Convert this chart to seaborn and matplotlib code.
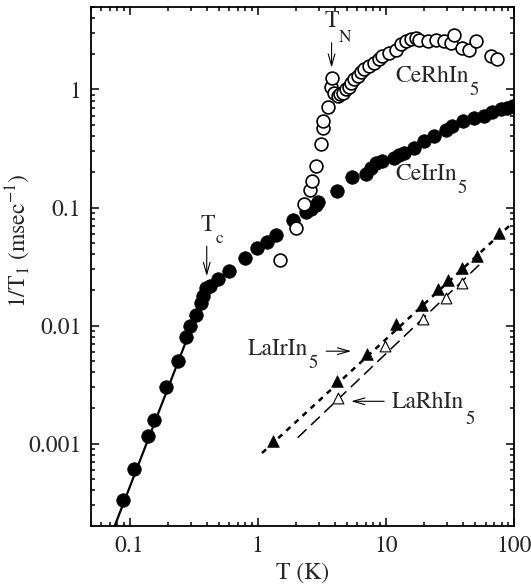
import matplotlib
matplotlib.use("Agg")
import matplotlib.pyplot as plt
import seaborn as sns
from matplotlib.ticker import FixedLocator, FixedFormatter, LogLocator, NullFormatter

# CeIrIn5, filled circles
ceir_T = [0.0895, 0.109, 0.138, 0.156, 0.193, 0.237, 0.275, 0.297, 0.327, 0.358,
          0.375, 0.394, 0.423, 0.49, 0.60, 0.80, 0.995, 1.19, 1.38, 1.87,
          2.36, 2.62, 2.83, 2.98, 4.14, 5.42, 7.01, 7.67, 8.39, 9.34,
          11.5, 12.7, 13.9, 16.7, 19.9, 23.8, 29.4, 33.1, 40.1, 48.8,
          58.5, 67.8, 78.7, 88.7, 98.0]
ceir_rate = [3.3e-4, 6.05e-4, 1.16e-3, 1.57e-3, 3.0e-3, 5.05e-3, 8.07e-3, 9.94e-3, 0.0123, 0.0154,
             0.0177, 0.0207, 0.0215, 0.025, 0.029, 0.037, 0.045, 0.0515, 0.059, 0.079,
             0.091, 0.098, 0.104, 0.112, 0.139, 0.181, 0.193, 0.217, 0.236, 0.25,
             0.264, 0.276, 0.287, 0.32, 0.365, 0.40, 0.458, 0.489, 0.54, 0.575,
             0.60, 0.642, 0.677, 0.70, 0.72]

# CeRhIn5, open circles
cerh_T = [1.48, 2.0, 2.29, 2.55, 2.65, 2.86, 3.10, 3.22, 3.26, 3.53,
          3.74, 3.79, 3.95, 4.22, 4.4, 4.61, 4.9, 5.13, 5.36, 5.69,
          6.03, 6.41, 6.8, 7.44, 8.14, 8.9, 9.4, 10.6, 12.0, 13.1,
          14.4, 15.7, 17.2, 18.2, 21.2, 24.6, 28.5, 32.2, 34.1, 39.6,
          44.7, 50.3, 65.8, 74.1]
cerh_rate = [0.0358, 0.0673, 0.107, 0.14, 0.169, 0.226, 0.345, 0.473, 0.546, 0.708,
             1.05, 1.26, 0.93, 0.88, 0.91, 0.94, 1.0, 1.05, 1.14, 1.22,
             1.30, 1.40, 1.48, 1.58, 1.68, 1.82, 1.91, 2.05, 2.18, 2.41,
             2.57, 2.68, 2.74, 2.65, 2.6, 2.65, 2.6, 2.49, 2.92, 2.26,
             2.18, 2.6, 1.92, 1.8]

# LaIrIn5, filled triangles
lair_T = [1.32, 4.15, 7.1, 12.0, 19.0, 25.3, 30.3, 39.2, 51.8, 76.4]
lair_rate = [1.06e-3, 3.37e-3, 5.76e-3, 0.0103, 0.0148, 0.0202, 0.0245, 0.0308, 0.0387, 0.061]

# LaRhIn5, open triangles
larh_T = [4.22, 9.85, 19.5, 29.4, 39.2]
larh_rate = [2.44e-3, 6.68e-3, 0.0113, 0.0172, 0.0227]

# fit lines (end points)
ceir_fit_T = [0.0765, 0.40]
ceir_fit_rate = [2.0e-4, 0.0209]
lair_fit_T = [1.08, 92.0]
lair_fit_rate = [8.3e-4, 0.07]
larh_fit_T = [2.05, 55.0]
larh_fit_rate = [1.12e-3, 0.0336]

x_ticks = [0.1, 1, 10, 100]
x_tick_labels = ["0.1", "1", "10", "100"]
y_ticks = [0.001, 0.01, 0.1, 1]
y_tick_labels = ["0.001", "0.01", "0.1", "1"]

sns.set_theme(style="ticks")
plt.rcParams["font.family"] = ["STIXGeneral", "DejaVu Serif"]
plt.rcParams["mathtext.fontset"] = "stix"

FS = 17

fig = plt.figure(figsize=(5.31, 5.84), dpi=100)
ax = fig.add_axes([0.1714, 0.0993, 0.7966, 0.8887])
ax.set_xscale("log")
ax.set_yscale("log")

sns.lineplot(x=ceir_fit_T, y=ceir_fit_rate, ax=ax, color="black", lw=1.6)
sns.lineplot(x=lair_fit_T, y=lair_fit_rate, ax=ax, color="black", lw=1.8,
             dashes=False, linestyle=(0, (2.2, 2.2)))
sns.lineplot(x=larh_fit_T, y=larh_fit_rate, ax=ax, color="black", lw=1.1,
             dashes=False, linestyle=(0, (8, 4)))

sns.scatterplot(x=ceir_T, y=ceir_rate, ax=ax, marker="o", s=95,
                color="black", edgecolor="black", linewidth=0.5, zorder=3)
sns.scatterplot(x=cerh_T, y=cerh_rate, ax=ax, marker="o", s=85,
                color="white", edgecolor="black", linewidth=1.2, zorder=4)
sns.scatterplot(x=lair_T, y=lair_rate, ax=ax, marker="^", s=70,
                color="black", edgecolor="black", linewidth=0.5, zorder=3)
sns.scatterplot(x=larh_T, y=larh_rate, ax=ax, marker="^", s=60,
                color="white", edgecolor="black", linewidth=0.8, zorder=3)

ax.set_xlim(0.05, 100)
ax.set_ylim(2e-4, 5)

ax.xaxis.set_major_locator(FixedLocator(x_ticks))
ax.xaxis.set_major_formatter(FixedFormatter(x_tick_labels))
ax.yaxis.set_major_locator(FixedLocator(y_ticks))
ax.yaxis.set_major_formatter(FixedFormatter(y_tick_labels))
ax.xaxis.set_minor_locator(LogLocator(base=10, subs=range(2, 10)))
ax.yaxis.set_minor_locator(LogLocator(base=10, subs=range(2, 10)))
ax.xaxis.set_minor_formatter(NullFormatter())
ax.yaxis.set_minor_formatter(NullFormatter())
ax.tick_params(which="both", direction="in", top=True, right=True, color="black", width=1.1)
ax.tick_params(which="major", length=6, labelsize=FS, pad=7)
ax.tick_params(which="minor", length=3)
for sp in ax.spines.values():
    sp.set_linewidth(1.3)
    sp.set_color("black")

ax.set_xlabel("T (K)", fontsize=FS)
ax.set_ylabel(r"1/T$_1$ (msec$^{-1}$)", fontsize=FS)
ax.xaxis.set_label_coords(0.5, -0.07)
ax.yaxis.set_label_coords(-0.14, 0.55)


def sub_label(text, sub, x, y, ha="left", sub_size=13.5, drop=-10):
    t = ax.text(x, y, text, ha=ha, va="center", fontsize=FS)
    ax.annotate(sub, xy=(1, 0.5), xycoords=t, xytext=(0.5, drop),
                textcoords="offset points", ha="left", va="center", fontsize=sub_size)


arrow = dict(arrowstyle="->, head_length=0.7, head_width=0.2", lw=0.8, color="black",
             shrinkA=0, shrinkB=0)

sub_label("T", "c", 0.41, 0.0704, ha="center", sub_size=12.5)
ax.annotate("", xy=(0.40, 0.0262), xytext=(0.40, 0.047), arrowprops=arrow)
sub_label("T", "N", 3.75, 3.79, ha="center", sub_size=12.5, drop=-12)
ax.annotate("", xy=(3.77, 1.53), xytext=(3.77, 2.49), arrowprops=arrow)

sub_label("CeRhIn", "5", 11.9, 1.29)
sub_label("CeIrIn", "5", 11.9, 0.19)
sub_label("LaIrIn", "5", 0.836, 6.26e-3)
ax.annotate("", xy=(5.36, 6.06e-3), xytext=(3.42, 6.06e-3), arrowprops=arrow)
sub_label("LaRhIn", "5", 11.2, 2.23e-3, drop=-12)
ax.annotate("", xy=(5.36, 2.28e-3), xytext=(9.7, 2.28e-3), arrowprops=arrow)

fig.savefig("out.png", dpi=100)
